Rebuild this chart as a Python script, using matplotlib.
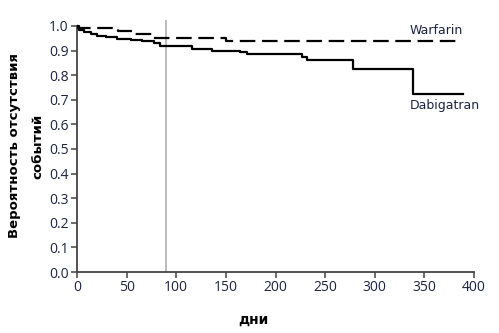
import numpy as np
import matplotlib.pyplot as plt

plt.rc("font", family="DejaVu Sans")

# Kaplan-Meier style step data (days, probability of event-free survival)
dabigatran_days = [0, 2, 7, 14, 20, 29, 40, 54, 65, 78, 84, 116, 136, 164, 171, 227, 232, 278, 339, 389]
dabigatran_prob = [1.0, 0.985, 0.976, 0.966, 0.959, 0.953, 0.947, 0.943, 0.937, 0.932, 0.919,
                   0.908, 0.900, 0.892, 0.886, 0.873, 0.862, 0.826, 0.724, 0.724]

warfarin_days = [0, 1, 41, 56, 76, 150, 383]
warfarin_prob = [1.0, 0.993, 0.980, 0.966, 0.952, 0.940, 0.940]

xticks = [0, 50, 100, 150, 200, 250, 300, 350, 400]
yticks = [0.0, 0.1, 0.2, 0.3, 0.4, 0.5, 0.6, 0.7, 0.8, 0.9, 1.0]
landmark_day = 90

fig = plt.figure(figsize=(4.99, 3.33), dpi=100)
ax = fig.add_axes([77/499, 61/333, 397/499, 252/333])

ax.axvline(landmark_day, color="#b0b0b0", lw=1.2, zorder=1)
ax.plot(warfarin_days, warfarin_prob, drawstyle="steps-post", color="black",
        lw=1.6, dashes=(7, 3), zorder=3)
ax.plot(dabigatran_days, dabigatran_prob, drawstyle="steps-post", color="black",
        lw=1.6, zorder=3)

ax.set_xlim(0, 400)
ax.set_ylim(0, 1.024)
ax.spines["top"].set_visible(False)
ax.spines["right"].set_visible(False)
ax.spines["left"].set_bounds(0, 1.0)
for s in ["left", "bottom"]:
    ax.spines[s].set_color("#444444")
    ax.spines[s].set_linewidth(1.3)

ax.set_xticks(xticks)
ax.set_yticks(yticks)
ax.set_yticklabels([f"{v:.1f}" for v in yticks])
ax.tick_params(direction="out", length=4, width=1.1, color="#444444",
               labelsize=10, labelcolor="#1c2340", pad=2)
for lbl in ax.get_xticklabels() + ax.get_yticklabels():
    lbl.set_family("Open Sans")

ax.text(335, 0.953, "Warfarin", fontsize=9, color="#1c2340", va="bottom", ha="left")
ax.text(335, 0.705, "Dabigatran", fontsize=9, color="#1c2340", va="top", ha="left")

fig.text(15/499, 1 - 146/333, "Вероятность отсутствия", rotation=90, fontsize=9.5,
         fontweight="bold", ha="center", va="center")
fig.text(38/499, 1 - 146/333, "событий", rotation=90, fontsize=9.5,
         fontweight="bold", ha="center", va="center")
fig.text(253/499, 1 - 320/333, "дни", fontsize=10, fontweight="bold",
         ha="center", va="center")

fig.savefig("out.png", dpi=100)
